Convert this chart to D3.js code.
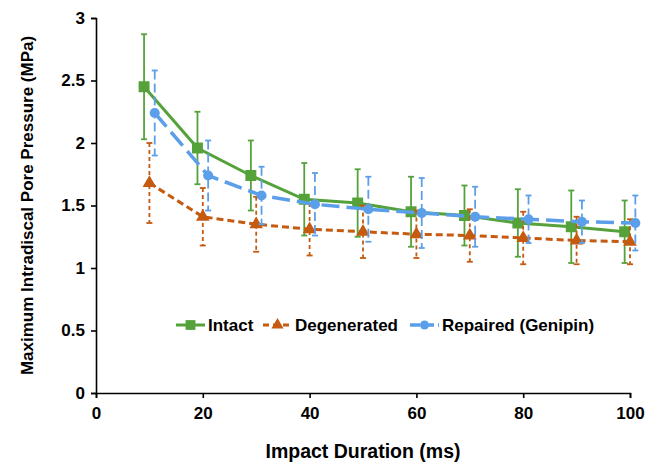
<!DOCTYPE html>
<html>
<head>
<meta charset="utf-8">
<script src="https://cdn.jsdelivr.net/npm/d3@7"></script>
<style>
  body { margin: 0; background: #fff; }
  svg text { font-family: "Liberation Sans", Arial, sans-serif; font-weight: bold; fill: #000; }
</style>
</head>
<body>
<div id="chart"></div>
<script>
// values
var seriesNames = ["Intact", "Degenerated", "Repaired (Genipin)"];
var intactX = [9, 19, 29, 39, 49, 59, 69, 79, 89, 99];
var intactY = [2.45, 1.96, 1.74, 1.55, 1.52, 1.45, 1.42, 1.36, 1.33, 1.29];
var intactErr = [0.42, 0.29, 0.28, 0.29, 0.27, 0.28, 0.24, 0.27, 0.29, 0.25];
var degenX = [10, 20, 30, 40, 50, 60, 70, 80, 90, 100];
var degenY = [1.68, 1.41, 1.35, 1.31, 1.29, 1.27, 1.26, 1.24, 1.22, 1.21];
var degenErr = [0.32, 0.23, 0.22, 0.21, 0.21, 0.19, 0.21, 0.21, 0.19, 0.18];
var repairX = [11, 21, 31, 41, 51, 61, 71, 81, 91, 101];
var repairY = [2.24, 1.74, 1.58, 1.51, 1.47, 1.44, 1.41, 1.39, 1.37, 1.36];
var repairErr = [0.34, 0.28, 0.23, 0.25, 0.26, 0.28, 0.24, 0.19, 0.17, 0.22];
var xTicks = [0, 20, 40, 60, 80, 100];
var yTicks = [0, 0.5, 1, 1.5, 2, 2.5, 3];

var width = 657, height = 465;
var margin = {top: 18, right: 27, bottom: 72, left: 96};

var svg = d3.select("#chart").append("svg")
    .attr("width", width)
    .attr("height", height);

var x = d3.scaleLinear().domain([0, 100]).range([margin.left, width - margin.right]);
var y = d3.scaleLinear().domain([0, 3]).range([height - margin.bottom, margin.top]);

// axes
svg.append("g")
    .attr("transform", "translate(0," + y(0) + ")")
    .call(d3.axisBottom(x).tickValues(xTicks).tickSize(5).tickPadding(9))
    .call(g => g.selectAll("path, line").attr("stroke", "#000").attr("stroke-width", 1.6))
    .call(g => g.selectAll("text").style("font-size", "17px"));

svg.append("g")
    .attr("transform", "translate(" + x(0) + ",0)")
    .call(d3.axisLeft(y).tickValues(yTicks).tickFormat(d3.format("")).tickSize(5).tickPadding(6))
    .call(g => g.selectAll("path, line").attr("stroke", "#000").attr("stroke-width", 1.6))
    .call(g => g.selectAll("text").style("font-size", "17px"));

svg.append("text")
    .attr("x", x(50)).attr("y", 458)
    .attr("text-anchor", "middle")
    .style("font-size", "19.5px")
    .text("Impact Duration (ms)");

svg.append("text")
    .attr("transform", "translate(33," + y(1.5) + ") rotate(-90)")
    .attr("text-anchor", "middle")
    .style("font-size", "17px")
    .text("Maximum Intradiscal Pore Pressure (MPa)");

var series = [
    {name: seriesNames[0], xs: intactX, ys: intactY, err: intactErr, color: "#55a23b",
     dash: null, errDash: null, width: 3, marker: d3.symbolSquare, size: 120},
    {name: seriesNames[1], xs: degenX, ys: degenY, err: degenErr, color: "#c55a11",
     dash: "7,4", errDash: "4,3", width: 3, marker: d3.symbolTriangle, size: 80},
    {name: seriesNames[2], xs: repairX, ys: repairY, err: repairErr, color: "#5b9fea",
     dash: "18,7", errDash: "9,4", width: 3.5, marker: d3.symbolCircle, size: 80}
];

var line = d3.line().x(d => x(d[0])).y(d => y(d[1]));

series.forEach(function(s) {
    var pts = s.xs.map((v, i) => [v, s.ys[i], s.err[i]]);
    var g = svg.append("g");

    // error bars
    var eb = g.selectAll(".eb").data(pts).enter().append("g")
        .attr("stroke", s.color).attr("stroke-width", 1.8).attr("fill", "none");
    eb.append("line")
        .attr("x1", d => x(d[0])).attr("x2", d => x(d[0]))
        .attr("y1", d => y(d[1] + d[2])).attr("y2", d => y(d[1] - d[2]))
        .attr("stroke-dasharray", s.errDash);
    eb.append("line")
        .attr("x1", d => x(d[0]) - 3).attr("x2", d => x(d[0]) + 3)
        .attr("y1", d => y(d[1] + d[2])).attr("y2", d => y(d[1] + d[2]));
    eb.append("line")
        .attr("x1", d => x(d[0]) - 3).attr("x2", d => x(d[0]) + 3)
        .attr("y1", d => y(d[1] - d[2])).attr("y2", d => y(d[1] - d[2]));

    g.append("path")
        .datum(pts)
        .attr("d", line)
        .attr("fill", "none")
        .attr("stroke", s.color)
        .attr("stroke-width", s.width)
        .attr("stroke-dasharray", s.dash);

    g.selectAll(".m").data(pts).enter().append("path")
        .attr("transform", d => "translate(" + x(d[0]) + "," + y(d[1]) + ")")
        .attr("d", d3.symbol().type(s.marker).size(s.size))
        .attr("fill", s.color);
});

// legend
var legendPos = [176, 263, 410];
var legend = svg.append("g").attr("transform", "translate(0,325)");
series.forEach(function(s, i) {
    var lg = legend.append("g").attr("transform", "translate(" + legendPos[i] + ",0)");
    lg.append("line").attr("x1", 0).attr("x2", 29).attr("y1", 0).attr("y2", 0)
        .attr("stroke", s.color).attr("stroke-width", s.width)
        .attr("stroke-dasharray", s.dash ? (i == 1 ? "6,4" : "10,4") : null);
    lg.append("path").attr("transform", "translate(14.5,0)")
        .attr("d", d3.symbol().type(s.marker).size(s.size * 0.8))
        .attr("fill", s.color);
    lg.append("text").attr("x", 32).attr("y", 6).style("font-size", "17px").text(s.name);
});
</script>
</body>
</html>
